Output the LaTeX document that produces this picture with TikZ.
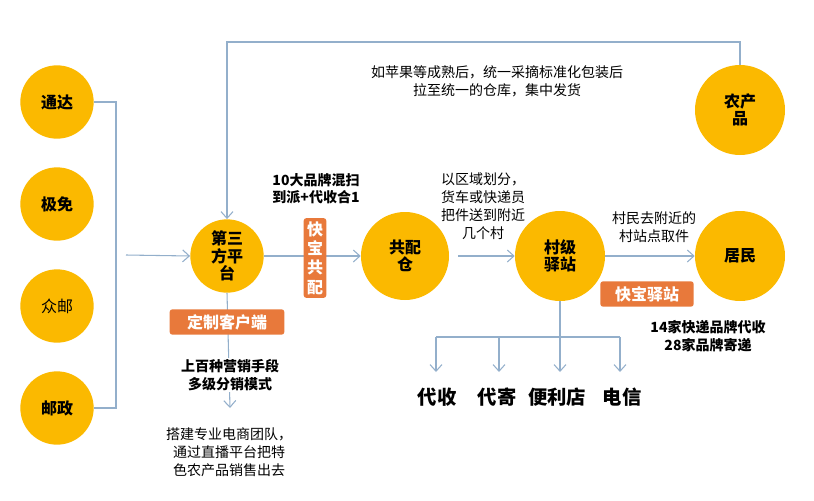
\documentclass[tikz,border=0pt]{standalone}
\usepackage{fontspec}
\setmainfont{Noto Sans CJK SC}
\usetikzlibrary{arrows.meta}
\definecolor{cy}{HTML}{FBB900}
\definecolor{co}{HTML}{E8793B}
\definecolor{cl}{HTML}{93AFCB}
\begin{document}
\begin{tikzpicture}[x=0.75pt,y=-0.75pt,
  circ/.style={circle,fill=cy,minimum size=67.5pt,inner sep=0pt,align=center,font=\bfseries\fontsize{12}{13}\selectfont},
  bigc/.style={circ,minimum size=67.5pt},
  obox/.style={fill=co,rounded corners=2pt,text=white,font=\bfseries\fontsize{12}{13}\selectfont,inner sep=3pt},
  ln/.style={draw=cl,line width=0.8pt},
  ar/.style={ln,-{Straight Barb[length=5pt,width=9pt]}},
  txt/.style={align=center,font=\fontsize{10.5}{13.5}\selectfont},
  btxt/.style={align=center,font=\bfseries\fontsize{10.5}{13}\selectfont},
  big/.style={font=\bfseries\fontsize{14.5}{16}\selectfont}]
\useasboundingbox (0,0) rectangle (814,500);
\node[circ,minimum size=55pt] (a) at (57,102) {通达};
\node[circ,minimum size=55pt] (b) at (57,204) {极免};
\node[circ,minimum size=55pt,font=\fontsize{12}{13}\selectfont] (c) at (57,306) {众邮};
\node[circ,minimum size=55pt] (d) at (57,408) {邮政};
\node[circ,minimum size=55pt] (p) at (227,256) {第三\\方平\\台};
\node[bigc,minimum size=66pt] (g) at (405,256) {共配\\仓};
\node[bigc] (v) at (560,256) {村级\\驿站};
\node[bigc] (r) at (740,256) {居民};
\node[bigc] (n) at (740,110) {农产\\品};
\coordinate (j) at (116,255);
\draw[ln] (a.east) -| (j) |- (d.east);
\coordinate (s) at (126,255);
\draw[ar] (s) -- (p.west);
\coordinate (t1) at (227,42);
\draw[ar] (n.north) |- (t1) -- (p.north);
\draw[ar] (p.east) -- (g.west);
\node[obox,align=center,inner sep=2.5pt,font=\bfseries\fontsize{12}{14.5}\selectfont] (kb) at (315,258) {快\\宝\\共\\配};
\node[btxt] (t10) at (316,189) {10大品牌混扫\\到派+代收合1};
\coordinate (pe) at (230,408);
\draw[ar] (p.south) -- (pe);
\node[obox,minimum width=86pt,minimum height=19pt] (dz) at (227,322) {定制客户端};
\node[btxt,fill=white,inner sep=1pt] (m1) at (230,375) {上百种营销手段\\多级分销模式};
\node[txt] (m2) at (229,452) {搭建专业电商团队，\\ 通过直播平台把特\\ 色农产品销售出去};
\node[txt] (m3) at (497,81) {如苹果等成熟后，统一采摘标准化包装后\\拉至统一的仓库，集中发货};
\draw[ar] (g.east) ++(9,0) coordinate (ge) (ge) -- (v.west);
\node[txt] (m4) at (483,206) {以区域划分，\\货车或快递员\\把件送到附近\\几个村};
\draw[ar] (v.east) -- (r.west);
\node[txt] (m5) at (654,227) {村民去附近的\\村站点取件};
\node[obox,minimum width=70pt,minimum height=19pt] (kz) at (647,294) {快宝驿站};
\node[btxt] (m6) at (708,336) {14家快递品牌代收\\28家品牌寄递};
\coordinate (h1) at (436,337); \coordinate (h4) at (620,337);
\coordinate (hv) at (560,337);
\draw[ln] (v.south) -- (hv);
\draw[ln] (h1) -- (h4);
\node[big] (l1) at (437,397) {代收};
\node[big] (l2) at (497,397) {代寄};
\node[big] (l3) at (557,397) {便利店};
\node[big] (l4) at (622,397) {电信};
\draw[ar] (h1) -- (436,372);
\draw[ar] (499,337) -- (499,372);
\draw[ar] (hv) -- (560,372);
\draw[ar] (h4) -- (620,372);
\end{tikzpicture}
\end{document}
